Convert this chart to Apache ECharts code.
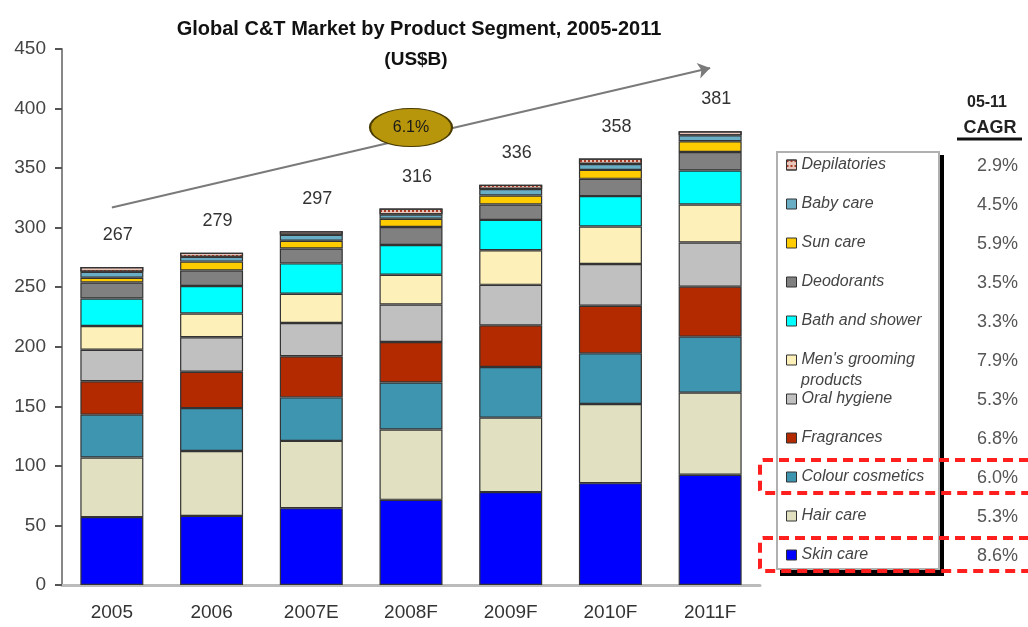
<!DOCTYPE html>
<html>
<head>
<meta charset="utf-8">
<title>Global C&amp;T Market by Product Segment</title>
<script src="https://cdn.jsdelivr.net/npm/echarts@6/dist/echarts.min.js"></script>
<style>
html, body { margin: 0; padding: 0; background: #fff; }
#chart { width: 1028px; height: 627px; }
</style>
</head>
<body>
<div id="chart"></div>
<script>
// categories and totals shown above the stacks
const years = ['2005', '2006', '2007E', '2008F', '2009F', '2010F', '2011F'];
const totals = [267, 279, 297, 316, 336, 358, 381];

// segment values, US$B (bottom of the stack first)
const skinCare = [57, 58, 64.5, 71.5, 78, 85.5, 92.5];
const hairCare = [50, 54.5, 56.5, 59, 62.5, 66.5, 69];
const colourCosmetics = [36, 36, 36.5, 39.5, 42.5, 42.5, 47];
const fragrances = [28, 30.5, 34.5, 34, 35, 40, 42];
const oralHygiene = [26.5, 29, 28, 31.5, 34, 35, 37];
const mensGrooming = [20, 20, 24.5, 25, 29, 31.5, 32];
const bathShower = [23, 23, 25.5, 25, 25.5, 25.5, 28.5];
const deodorants = [13.5, 13, 12.5, 15, 13, 14.5, 15.5];
const sunCare = [4, 7.5, 6.5, 7, 7.5, 7.5, 9];
const babyCare = [5, 4, 5, 3.5, 5.5, 5, 5];
const depilatories = [4, 3.5, 3, 5, 3.5, 4.5, 3.5];

const segmentNames = ['Skin care', 'Hair care', 'Colour cosmetics', 'Fragrances', 'Oral hygiene',
    "Men's grooming products", 'Bath and shower', 'Deodorants', 'Sun care', 'Baby care', 'Depilatories'];
const segmentData = [skinCare, hairCare, colourCosmetics, fragrances, oralHygiene,
    mensGrooming, bathShower, deodorants, sunCare, babyCare, depilatories];
// 05-11 CAGR, same order as segmentNames
const cagr = ['8.6%', '5.3%', '6.0%', '6.8%', '5.3%', '7.9%', '3.3%', '3.5%', '5.9%', '4.5%', '2.9%'];

// overall growth arrow (data coords) and its bubble
const overallCagr = '6.1%';
const trendFrom = [years[0], 317];
const trendTo = [years[6], 434];
const bubbleAt = [years[3], 384];

const yTicks = [0, 450, 50]; // min, max, interval

const colors = ['#0000ff', '#e1e1c1', '#3e95b0', '#b42a00', '#c0c0c0', '#fdf0b9',
    '#00ffff', '#808080', '#ffcc00', '#6aaec6', '#e9c4b8'];
const font = "'Liberation Sans', Arial, sans-serif";

const chart = echarts.init(document.getElementById('chart'));

const series = segmentNames.map(function (name, i) {
    const s = {
        name: name,
        type: 'bar',
        stack: 'total',
        barWidth: 63,
        data: segmentData[i],
        itemStyle: { color: colors[i], borderColor: '#333', borderWidth: 1.2 },
        emphasis: { disabled: true },
        animation: false
    };
    if (name === 'Depilatories') {
        s.itemStyle.decal = {
            symbol: 'rect', symbolSize: 1, color: '#a83a24',
            dashArrayX: [2, 2], dashArrayY: [2, 3]
        };
        s.label = {
            show: true,
            position: 'top',
            distance: 23,
            offset: [6, 0],
            fontFamily: font,
            fontSize: 18,
            color: '#333',
            formatter: function (p) { return totals[p.dataIndex]; }
        };
    }
    if (i === 0) {
        s.markLine = {
            silent: true,
            animation: false,
            symbol: ['none', 'arrow'],
            symbolSize: 12,
            lineStyle: { color: '#7a7a7a', width: 2, type: 'solid' },
            label: { show: false },
            data: [[{ coord: trendFrom }, { coord: trendTo }]]
        };
        s.markPoint = {
            silent: true,
            animation: false,
            symbol: 'circle',
            symbolSize: [82, 38],
            itemStyle: { color: '#b8960c', borderColor: '#4a3c00', borderWidth: 1.5 },
            label: { show: true, formatter: overallCagr, color: '#1a1a1a', fontSize: 16, fontFamily: font },
            data: [{ coord: bubbleAt }]
        };
    }
    return s;
});

// CAGR column next to the legend, top row = top of the stack
const legendOrder = segmentNames.slice().reverse();
const cagrTexts = legendOrder.map(function (name, i) {
    return {
        type: 'text',
        z: 10,
        style: {
            text: cagr[segmentNames.indexOf(name)],
            x: 1018, y: 166 + i * 39,
            align: 'right', verticalAlign: 'middle',
            font: '18px ' + font,
            fill: '#555'
        }
    };
});

const option = {
    backgroundColor: '#fff',
    title: [{
        text: 'Global C&T Market by Product Segment, 2005-2011',
        left: 414,
        top: 14,
        textAlign: 'center',
        textStyle: { fontFamily: font, fontSize: 20, fontWeight: 'bold', color: '#111' }
    }, {
        text: '(US$B)',
        left: 411,
        top: 45,
        textAlign: 'center',
        textStyle: { fontFamily: font, fontSize: 19, fontWeight: 'bold', color: '#111' }
    }],
    grid: { left: 62, right: 268, top: 49, bottom: 42 },
    xAxis: {
        type: 'category',
        data: years,
        axisLine: { lineStyle: { color: '#bbb', width: 3 } },
        axisTick: { show: false },
        axisLabel: { fontFamily: font, fontSize: 19, color: '#333', margin: 18 }
    },
    yAxis: {
        type: 'value',
        min: yTicks[0],
        max: yTicks[1],
        interval: yTicks[2],
        splitLine: { show: false },
        axisLine: { show: true, lineStyle: { color: '#888', width: 2 } },
        axisTick: { show: true, length: 7, lineStyle: { color: '#555', width: 2 } },
        axisLabel: { fontFamily: font, fontSize: 19, color: '#444', margin: 16 }
    },
    legend: {
        orient: 'vertical',
        left: 781,
        top: 150,
        z: 5,
        selectedMode: false,
        icon: 'rect',
        itemWidth: 10,
        itemHeight: 10,
        itemGap: 19,
        itemStyle: { borderColor: '#333', borderWidth: 1 },
        data: legendOrder,
        formatter: function (name) {
            return name === "Men's grooming products" ? "Men's grooming" : name;
        },
        textStyle: { fontFamily: font, fontSize: 16, fontStyle: 'italic', color: '#444', lineHeight: 20 }
    },
    graphic: [{
        // legend frame: black right/bottom edge under a white box
        type: 'rect',
        z: 1,
        shape: { x: 780, y: 155, width: 164, height: 421 },
        style: { fill: '#000' }
    }, {
        type: 'rect',
        z: 2,
        shape: { x: 777, y: 152, width: 162, height: 417 },
        style: { fill: '#fff', stroke: '#b0b0b0', lineWidth: 2 }
    }, {
        type: 'text',
        z: 10,
        style: {
            text: 'products', x: 801, y: 381, verticalAlign: 'middle',
            font: 'italic 16px ' + font, fill: '#444'
        }
    }, {
        type: 'text',
        z: 10,
        style: {
            text: '05-11', x: 987, y: 103, align: 'center', verticalAlign: 'middle',
            font: 'bold 16px ' + font, fill: '#222'
        }
    }, {
        type: 'text',
        z: 10,
        style: {
            text: 'CAGR', x: 990, y: 128, align: 'center', verticalAlign: 'middle',
            font: 'bold 18px ' + font, fill: '#222'
        }
    }, {
        type: 'line',
        z: 10,
        shape: { x1: 957, y1: 139, x2: 1022, y2: 139 },
        style: { stroke: '#111', lineWidth: 3 }
    }, {
        type: 'rect',
        z: 12,
        shape: { x: 760, y: 460, width: 290, height: 33, r: 3 },
        style: { fill: 'none', stroke: '#ff1f1f', lineWidth: 4, lineDash: [10, 6] }
    }, {
        type: 'rect',
        z: 12,
        shape: { x: 760, y: 538, width: 290, height: 33, r: 3 },
        style: { fill: 'none', stroke: '#ff1f1f', lineWidth: 4, lineDash: [10, 6] }
    }].concat(cagrTexts),
    series: series
};

chart.setOption(option);
</script>
</body>
</html>
